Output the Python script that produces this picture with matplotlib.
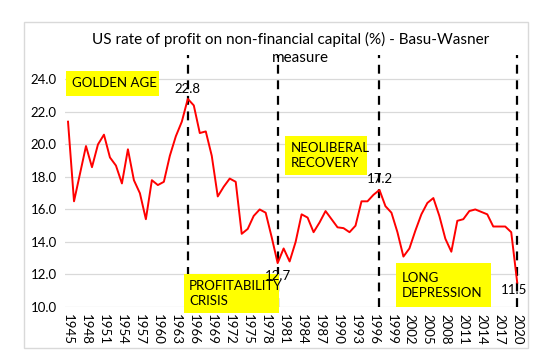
import matplotlib
matplotlib.use("Agg")
import matplotlib.pyplot as plt
from matplotlib.patches import Rectangle

plt.rcParams['font.family'] = ['Lato', 'DejaVu Sans']

# data
years = list(range(1945, 2021))
rate = [21.4, 16.5, 18.2, 19.9, 18.6, 20.0, 20.6, 19.2, 18.7, 17.6,
        19.7, 17.8, 17.0, 15.4, 17.8, 17.5, 17.7, 19.3, 20.5, 21.4,
        22.8, 22.4, 20.7, 20.8, 19.3, 16.8, 17.4, 17.9, 17.7, 14.5,
        14.8, 15.6, 16.0, 15.8, 14.3, 12.7, 13.6, 12.8, 14.0, 15.7,
        15.5, 14.6, 15.2, 15.9, 15.4, 14.9, 14.85, 14.6, 15.0, 16.5,
        16.5, 16.9, 17.2, 16.2, 15.8, 14.6, 13.1, 13.6, 14.7, 15.7,
        16.4, 16.7, 15.6, 14.2, 13.4, 15.3, 15.4, 15.9, 16.0, 15.85,
        15.7, 14.95, 14.95, 14.95, 14.6, 11.5]
marker_years = [1965, 1980, 1997, 2020]
marker_labels = ["22.8", "12.7", "17.2", "11.5"]
# offsets for the value labels (points)
label_offsets = [(0, 7), (0, -9), (0, 8), (-2, -5)]

# period boxes: text, year span (left/right), value span (bottom/top)
periods = [
    ("GOLDEN AGE", 1944.7, 1960.2, 23.0, 24.5),
    ("PROFITABILITY\nCRISIS", 1964.3, 1980.3, 9.6, 12.0),
    ("NEOLIBERAL\nRECOVERY", 1981.3, 1995.0, 18.1, 20.5),
    ("LONG\nDEPRESSION", 1999.8, 2015.7, 10.0, 12.7),
]

x = list(range(len(years)))

fig = plt.figure(figsize=(5.33, 3.62), dpi=100)
ax = fig.add_axes([0.122, 0.152, 0.854, 0.696])

fig.patches.append(Rectangle((24 / 533, 1 - 348 / 362), 504 / 533, 326 / 362,
                             transform=fig.transFigure, fill=False,
                             edgecolor='#D9D9D9', lw=1))

ax.plot(x, rate, color='#FF0000', lw=1.4, zorder=3)

for yr in marker_years:
    ax.plot([yr - 1945, yr - 1945], [10, 25.5], color='black', lw=1.6,
            ls=(0, (4, 3)), zorder=2, clip_on=False)

for yr, lab, off in zip(marker_years, marker_labels, label_offsets):
    i = yr - 1945
    ax.annotate(lab, (i, rate[i]), xytext=off, textcoords='offset points',
                ha='center', va='center', fontsize=9.5, zorder=5)

for text, x0, x1, y0, y1 in periods:
    ax.add_patch(Rectangle((x0 - 1945, y0), x1 - x0, y1 - y0, facecolor='#FFFF00',
                           edgecolor='none', zorder=4, clip_on=False))
    ax.text(x0 - 1945 + 0.9, (y0 + y1) / 2, text, ha='left', va='center',
            fontsize=9.5, linespacing=1.3, zorder=5)

ax.set_xlim(-0.5, len(years) - 0.5)
ax.set_ylim(10, 25.5)
ax.set_yticks([10, 12, 14, 16, 18, 20, 22, 24])
ax.set_yticklabels(["%.1f" % v for v in [10, 12, 14, 16, 18, 20, 22, 24]], fontsize=9.5)
ax.set_xticks(x[::3])
ax.set_xticklabels([str(y) for y in years[::3]], rotation=-90, fontsize=9.5)
ax.tick_params(length=0, pad=6)
ax.tick_params(axis='x', pad=5)
ax.grid(axis='y', color='#D9D9D9', lw=0.9)
ax.set_axisbelow(True)
for s in ax.spines.values():
    s.set_visible(False)

fig.text(0.545, 0.89, "US rate of profit on non-financial capital (%) - Basu-Wasner",
         ha='center', va='center', fontsize=11)
fig.text(0.563, 0.84, "measure", ha='center', va='center', fontsize=11)

fig.savefig("out.png", dpi=100)
